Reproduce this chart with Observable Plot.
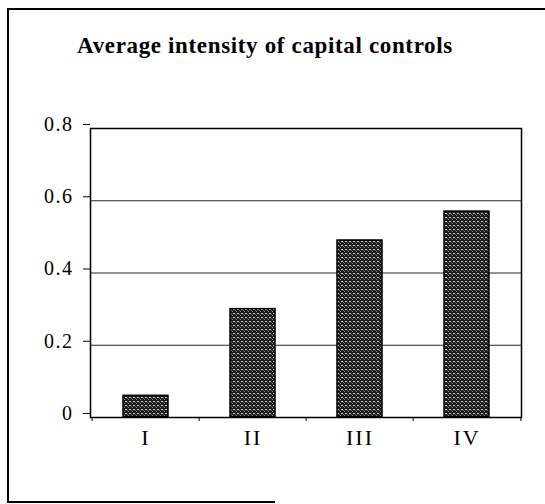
<!DOCTYPE html>
<html>
<head>
<meta charset="utf-8">
<script src="https://cdn.jsdelivr.net/npm/d3@7"></script>
<script src="https://cdn.jsdelivr.net/npm/@observablehq/plot@0.6"></script>
<style>
  html, body { margin: 0; padding: 0; background: #fff; }
  #wrap { position: relative; width: 545px; height: 504px; overflow: hidden; }
  #frame { position: absolute; left: 7px; top: 8px; width: 560px; height: 493px;
           border-left: 2px solid #000; border-top: 2px solid #000; }
  #bottomline { position: absolute; left: 7px; top: 501px; width: 268px; height: 0;
           border-top: 2px solid #000; }
  #title { position: absolute; left: 0; top: 33px; width: 530px; text-align: center;
           font-family: "Liberation Serif", "Times New Roman", serif; font-weight: bold;
           font-size: 23px; letter-spacing: 0.65px; color: #000; }
  #chart { position: absolute; left: 0; top: 0; }
  #chart svg text { font-family: "Liberation Serif", "Times New Roman", serif; }
  #chart svg g[aria-label="y-axis tick label"] text { letter-spacing: 1.5px; }
  #chart svg g[aria-label="x-axis tick label"] text { letter-spacing: 2px; }
</style>
</head>
<body>
<div id="wrap">
  <div id="frame"></div>
  <div id="bottomline"></div>
  <div id="title">Average intensity of capital controls</div>
  <div id="chart"></div>
</div>
<script>
const categories = ["I", "II", "III", "IV"];
const values = [0.06, 0.30, 0.49, 0.57];
const yTicks = [0, 0.2, 0.4, 0.6, 0.8];
const gridValues = [0.2, 0.4, 0.6];

const data = categories.map((c, i) => ({cat: c, v: values[i]}));

const W = 545, H = 504, mL = 90, mR = 24;
const step = (W - mL - mR) / categories.length;

const plot = Plot.plot({
  width: W,
  height: H,
  marginLeft: mL,
  marginRight: mR,
  marginTop: 128,
  marginBottom: 87,
  style: {fontFamily: "'Liberation Serif', 'Times New Roman', serif", fontSize: "20px", color: "#000", background: "transparent"},
  x: {domain: categories, paddingInner: 0.58, paddingOuter: 0.29, label: null},
  y: {domain: [0, 0.8], label: null},
  marks: [
    Plot.gridY(gridValues, {stroke: "#000", strokeOpacity: 0.85, strokeWidth: 1}),
    Plot.barY(data, {x: "cat", y: "v", fill: "#222", stroke: "#000", strokeWidth: 1.5}),
    Plot.frame({stroke: "#000", strokeWidth: 1.5}),
    Plot.axisY({ticks: yTicks, tickSize: 7, tickPadding: 10, fontSize: 20, dy: -4,
                tickFormat: d => d === 0 ? "0" : d.toFixed(1), label: null}),
    Plot.axisX({tickSize: 0, tickPadding: 12, fontSize: 22, label: null}),
    Plot.axisX({tickSize: 4, dx: -step / 2, tickFormat: () => "", label: null}),
    Plot.axisX({ticks: ["IV"], tickSize: 4, dx: step / 2, tickFormat: () => "", label: null})
  ]
});

// dotted fill pattern for the bars
const ns = "http://www.w3.org/2000/svg";
const defs = document.createElementNS(ns, "defs");
const pat = document.createElementNS(ns, "pattern");
pat.setAttribute("id", "dots");
pat.setAttribute("width", "4");
pat.setAttribute("height", "4");
pat.setAttribute("patternUnits", "userSpaceOnUse");
[["0","0","4","4","#1c1c1c"],["1","1","2","1","#cfcfcf"],["0","3","1","1","#8a8a8a"],["3","2","1","1","#6a6a6a"]]
  .forEach(([x,y,w,h,f]) => {
    const r = document.createElementNS(ns, "rect");
    r.setAttribute("x", x); r.setAttribute("y", y);
    r.setAttribute("width", w); r.setAttribute("height", h);
    r.setAttribute("fill", f);
    pat.appendChild(r);
  });
defs.appendChild(pat);
plot.insertBefore(defs, plot.firstChild);
d3.select(plot).selectAll("g[aria-label='bar'] rect").attr("fill", "url(#dots)");

document.getElementById("chart").appendChild(plot);
</script>
</body>
</html>
